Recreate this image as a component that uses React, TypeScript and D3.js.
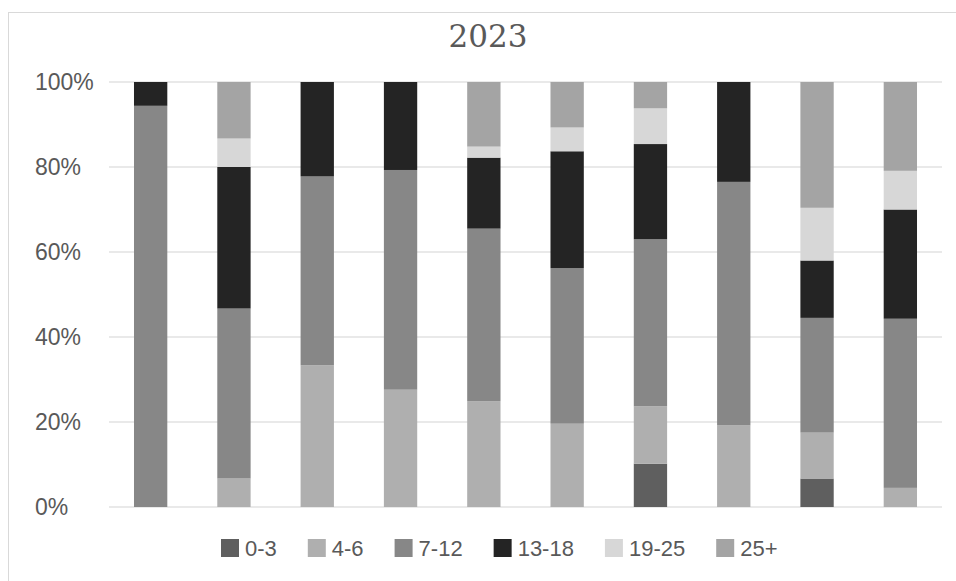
import React, { useEffect, useRef } from "react";
import * as d3 from "d3";

// bar groups (no axis labels shown on the original)
const categories = ["1", "2", "3", "4", "5", "6", "7", "8", "9", "10"];

// share of each age band per bar, in percent
const age0to3 = [0, 0, 0, 0, 0, 0, 10.2, 0, 6.7, 0];
const age4to6 = [0, 6.7, 33.3, 27.6, 24.9, 19.6, 13.5, 19.2, 10.8, 4.5];
const age7to12 = [94.4, 40, 44.4, 51.7, 40.6, 36.6, 39.3, 57.3, 27.0, 39.8];
const age13to18 = [5.6, 33.3, 22.2, 20.7, 16.7, 27.5, 22.4, 23.5, 13.5, 25.7];
const age19to25 = [0, 6.7, 0, 0, 2.6, 5.6, 8.4, 0, 12.4, 9.1];
const age25plus = [0, 13.3, 0, 0, 15.2, 10.7, 6.2, 0, 29.6, 20.9];

const seriesNames = ["0-3", "4-6", "7-12", "13-18", "19-25", "25+"];
const seriesColors = ["#5f5f5f", "#afafaf", "#878787", "#242424", "#d7d7d7", "#a4a4a4"];
const tickValues = [0, 0.2, 0.4, 0.6, 0.8, 1];

const W = 956;
const H = 581;
const margin = { top: 82, right: 14, bottom: 74, left: 109 };

export default function App() {
  const legendRef = useRef<SVGGElement>(null);

  const allSeries = [age0to3, age4to6, age7to12, age13to18, age19to25, age25plus];
  const table = categories.map((c, i) => {
    const row: Record<string, any> = { cat: c };
    seriesNames.forEach((s, k) => (row[s] = allSeries[k][i]));
    return row;
  });

  const stacked = d3
    .stack<Record<string, any>>()
    .keys(seriesNames)
    .offset(d3.stackOffsetExpand)(table);

  const x = d3
    .scaleBand()
    .domain(categories)
    .range([margin.left, W - margin.right])
    .paddingInner(0.6)
    .paddingOuter(0.3);

  const y = d3
    .scaleLinear()
    .domain([0, 1])
    .range([H - margin.bottom, margin.top]);

  const fmt = d3.format(".0%");

  // lay the legend out from the real text widths
  useEffect(() => {
    if (!legendRef.current) return;
    const items = d3.select(legendRef.current).selectAll<SVGGElement, unknown>("g.item");
    let pos = 221;
    items.each(function () {
      const g = d3.select(this);
      g.attr("transform", `translate(${pos},0)`);
      const t = g.select<SVGTextElement>("text").node();
      const w = t ? t.getComputedTextLength() : 30;
      pos += 18 + 6 + w + 31;
    });
  }, []);

  return (
    <svg
      width={W}
      height={H}
      style={{ position: "absolute", left: 0, top: 0, background: "#fff" }}
    >
      {/* chart area border */}
      <rect x={8.5} y={12.5} width={1000} height={700} fill="#fff" stroke="#d9d9d9" />

      <text
        x={488}
        y={47}
        textAnchor="middle"
        fontFamily="'DejaVu Serif', serif"
        fontSize={31}
        fill="#595959"
      >
        2023
      </text>

      {/* gridlines */}
      {tickValues.map((t) => (
        <line
          key={t}
          x1={margin.left}
          x2={W - margin.right}
          y1={y(t)}
          y2={y(t)}
          stroke="#e2e2e2"
          strokeWidth={1.6}
        />
      ))}

      {/* tick labels */}
      {tickValues.map((t) => (
        <text
          key={"l" + t}
          x={35}
          y={y(t)}
          dy="0.36em"
          fontFamily="'Liberation Sans', Arial, sans-serif"
          fontSize={23}
          fill="#595959"
        >
          {fmt(t)}
        </text>
      ))}

      {/* bars */}
      {stacked.map((layer, k) => (
        <g key={layer.key} fill={seriesColors[k]}>
          {layer.map((d, i) =>
            d[1] - d[0] > 0 ? (
              <rect
                key={i}
                x={x(categories[i])}
                width={x.bandwidth()}
                y={y(d[1])}
                height={y(d[0]) - y(d[1])}
              />
            ) : null
          )}
        </g>
      ))}

      {/* legend */}
      <g ref={legendRef} transform="translate(0,539)">
        {seriesNames.map((s, k) => (
          <g className="item" key={s}>
            <rect width={18} height={18} fill={seriesColors[k]} />
            <text
              x={24}
              y={9}
              dy="0.36em"
              fontFamily="'Liberation Sans', Arial, sans-serif"
              fontSize={22}
              fill="#595959"
            >
              {s}
            </text>
          </g>
        ))}
      </g>
    </svg>
  );
}
